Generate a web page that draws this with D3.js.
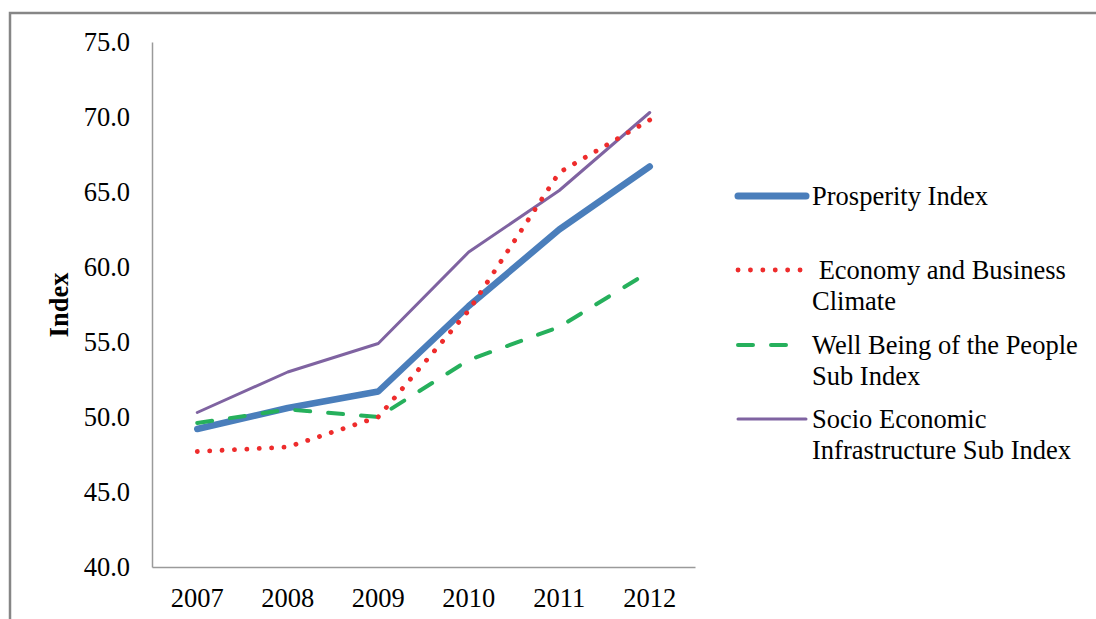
<!DOCTYPE html>
<html>
<head>
<meta charset="utf-8">
<script src="https://cdn.jsdelivr.net/npm/d3@7"></script>
<style>
  body { margin: 0; background: #fff; }
  text { font-family: "Liberation Serif", "Times New Roman", serif; fill: #000; }
</style>
</head>
<body>
<div id="viz"></div>
<script>
var years = ['2007', '2008', '2009', '2010', '2011', '2012'];
var yTicks = [40, 45, 50, 55, 60, 65, 70, 75];

var prosperity = [49.2, 50.6, 51.7, 57.4, 62.5, 66.7];
var economy    = [47.7, 48.0, 50.0, 57.1, 66.3, 69.8];
var wellBeing  = [49.6, 50.5, 50.0, 53.8, 56.0, 59.7];
var socioEcon  = [50.3, 53.0, 54.9, 61.0, 65.1, 70.3];

var seriesNames = [
    ['Prosperity Index'],
    [' Economy and Business', 'Climate'],
    ['Well Being of the People', 'Sub Index'],
    ['Socio Economic', 'Infrastructure Sub Index']
];

var width = 1096,
    height = 619,
    fontSize = '26.5px';

var series = [
    { values: prosperity, color: '#4A7EBB', w: 6.5, dash: null },
    { values: economy,    color: '#EE2C2C', w: 4.8, dash: '0.1 12.3' },
    { values: wellBeing,  color: '#26B05C', w: 4,   dash: '15 18' },
    { values: socioEcon,  color: '#7F63A1', w: 3,   dash: null }
];

var xScale = d3.scaleBand()
    .domain(years)
    .range([152, 695]);

var yScale = d3.scaleLinear()
    .domain([40, 75])
    .range([567, 42]);

var svg = d3.select('#viz').append('svg')
    .attr('width', width)
    .attr('height', height);

// outer frame (only top and left edges show)
svg.append('path')
    .attr('d', 'M10,' + height + 'V13H' + width)
    .attr('fill', 'none')
    .attr('stroke', '#868686')
    .attr('stroke-width', 2.5);

// axes
var yAxis = d3.axisLeft(yScale)
    .tickValues(yTicks)
    .tickSize(0)
    .tickPadding(22)
    .tickFormat(d3.format('.1f'));

var xAxis = d3.axisBottom(xScale)
    .tickSize(0)
    .tickPadding(22);

var gy = svg.append('g')
    .attr('transform', 'translate(152,0)')
    .call(yAxis);

var gx = svg.append('g')
    .attr('transform', 'translate(0,567)')
    .call(xAxis);

[gx, gy].forEach(function (g) {
    g.select('.domain')
        .attr('stroke', '#9a9a9a')
        .attr('stroke-width', 1.5);
    g.selectAll('text')
        .style('font-family', '"Liberation Serif", serif')
        .style('font-size', fontSize)
        .attr('fill', '#000');
});
gx.selectAll('text').attr('dy', '0.68em');

svg.append('text')
    .attr('transform', 'translate(68,305) rotate(-90)')
    .attr('text-anchor', 'middle')
    .style('font-size', fontSize)
    .style('font-weight', 'bold')
    .text('Index');

var line = d3.line()
    .x(function (d, i) { return xScale(years[i]) + xScale.bandwidth() / 2; })
    .y(function (d) { return yScale(d); });

// socio first so it sits underneath
var order = [3, 0, 2, 1];
order.forEach(function (k) {
    var s = series[k];
    svg.append('path')
        .datum(s.values)
        .attr('d', line)
        .attr('fill', 'none')
        .attr('stroke', s.color)
        .attr('stroke-width', s.w)
        .attr('stroke-linecap', 'round')
        .attr('stroke-linejoin', 'round')
        .attr('stroke-dasharray', s.dash);
});

// legend
var legendY = [196, 270, 345, 419];
var legend = svg.selectAll('.legend').data(series)
    .enter().append('g')
    .attr('class', 'legend')
    .attr('transform', function (d, i) { return 'translate(0,' + legendY[i] + ')'; });

legend.append('line')
    .attr('x1', 738)
    .attr('x2', function (d, i) { return i === 2 ? 795 : 806; })
    .attr('stroke', function (d) { return d.color; })
    .attr('stroke-width', function (d, i) { return i === 0 ? 7 : d.w; })
    .attr('stroke-linecap', 'round')
    .attr('stroke-dasharray', function (d) { return d.dash; });

legend.append('text')
    .style('font-size', fontSize)
    .style('white-space', 'pre')
    .each(function (d, i) {
        var t = d3.select(this);
        seriesNames[i].forEach(function (s, j) {
            t.append('tspan')
                .attr('x', 812)
                .attr('y', j * 31)
                .attr('dy', '0.33em')
                .text(s);
        });
    });
</script>
</body>
</html>
